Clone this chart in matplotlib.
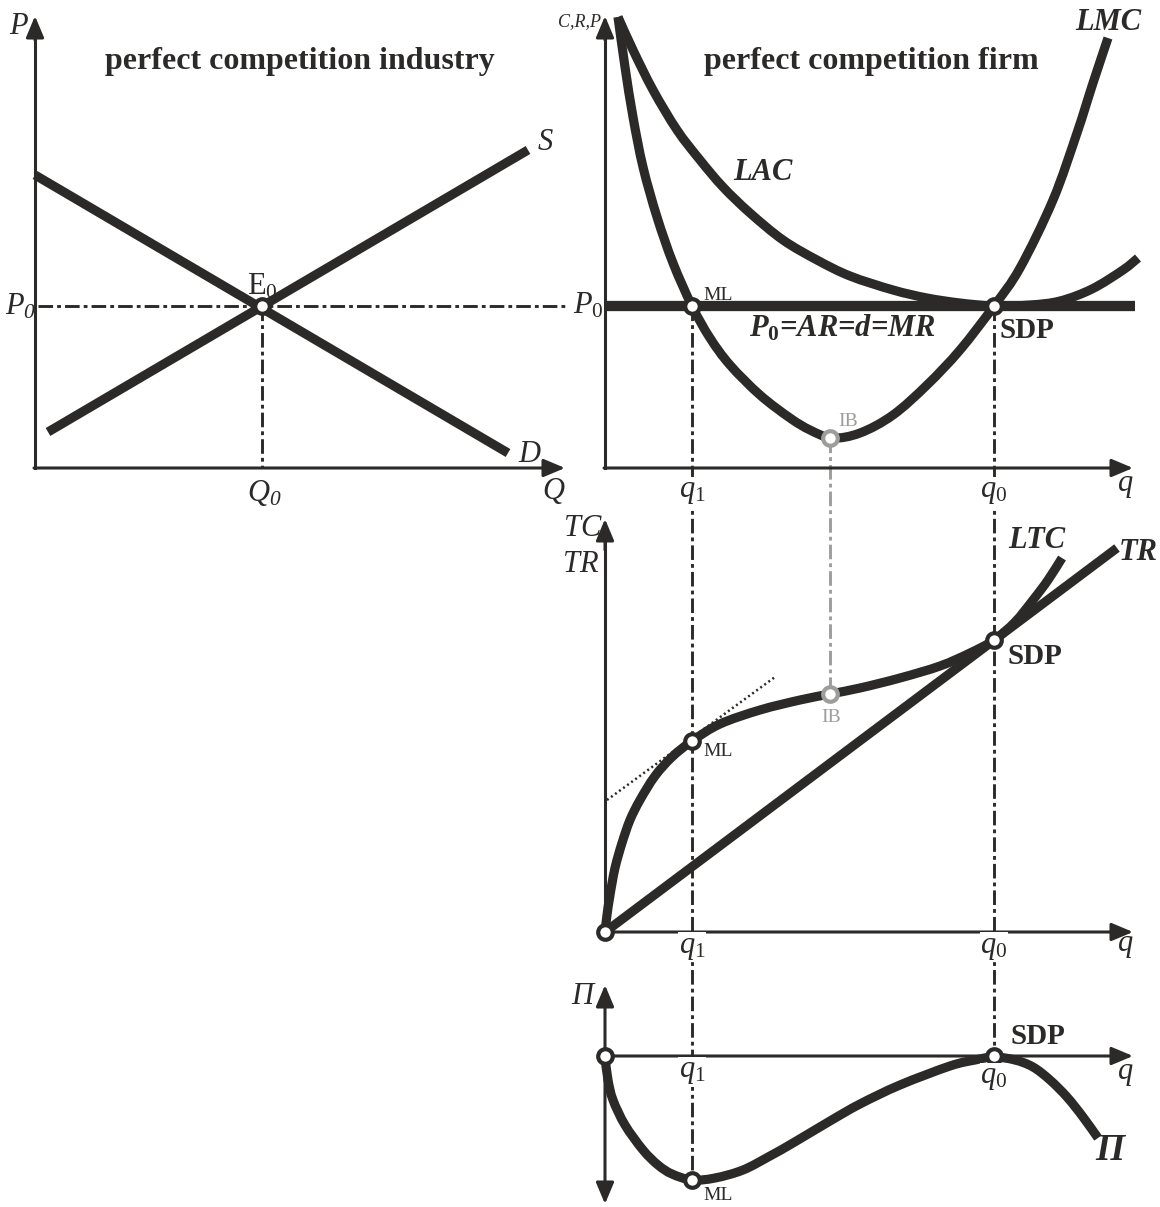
import matplotlib
matplotlib.use("Agg")
import matplotlib.pyplot as plt
from matplotlib.path import Path
from matplotlib.patches import PathPatch

DARK = "#2b2a29"
GREY = "#9d9d9c"

plt.rcParams["font.family"] = "Liberation Serif"
plt.rcParams["mathtext.fontset"] = "custom"
plt.rcParams["mathtext.rm"] = "Liberation Serif"
plt.rcParams["mathtext.it"] = "Liberation Serif:italic"
plt.rcParams["mathtext.bf"] = "Liberation Serif:bold"
plt.rcParams["mathtext.sf"] = "Liberation Serif:italic"
plt.rcParams["mathtext.cal"] = "Liberation Serif:italic:bold"

# ---- values (drawing units = pixels, y downwards) ----
# industry panel
S_X, S_Y = [48, 528], [432, 150]
D_X, D_Y = [35, 508], [175, 453]
E0 = (262, 306)

# firm panel: costs
LMC_X = [618, 625, 633, 643, 657, 673, 692, 710, 730, 760, 790, 810, 832,
         860, 893, 927, 960, 994, 1020, 1053, 1077, 1093, 1108]
LMC_Y = [17, 67, 117, 167, 217, 263, 306, 338, 365, 395, 418, 430, 438,
         433, 415, 385, 350, 306, 268, 200, 133, 83, 38]
LAC_X = [618, 633, 653, 677, 700, 723, 750, 783, 817, 850, 893, 927, 960, 994,
         1030, 1060, 1092, 1123, 1138]
LAC_Y = [17, 50, 90, 130, 160, 187, 213, 240, 260, 276, 290, 298, 303, 306,
         305, 301, 289, 270, 258]
P0_Y = 306
ML_Q, IB_Q, SDP_Q = 692, 830, 994
IB_MC = 438

# firm panel: totals
LTC_X = [605, 607, 610, 615, 622, 630, 640, 655, 672, 692, 720, 760, 800, 830,
         860, 900, 940, 970, 994, 1015, 1033, 1048, 1062]
LTC_Y = [932, 915, 895, 868, 843, 820, 800, 776, 757, 741, 724, 710, 700, 694,
         688, 678, 666, 653, 640, 622, 600, 580, 558]
TR_X, TR_Y = [605, 1117], [932, 548]
TAN_X, TAN_Y = [607, 775], [800, 677]

# firm panel: profit
PI_X = [605, 608, 613, 625, 643, 658, 672, 692, 715, 743, 770, 793, 830, 860,
        900, 950, 975, 994, 1015, 1033, 1050, 1067, 1083, 1098]
PI_Y = [1057, 1080, 1100, 1125, 1150, 1165, 1174, 1180, 1178, 1170, 1156, 1143,
        1121, 1104, 1085, 1066, 1060, 1057, 1060, 1067, 1080, 1097, 1117, 1138]

# axes frames
AX_L = 35
AX_R = 605
BASE_TOP = 468
BASE_MID = 932
BASE_BOT = 1056
ARROW_END = 1133

fig = plt.figure(figsize=(11.6, 12.07), dpi=100)
ax = fig.add_axes([0, 0, 1, 1])
ax.set_xlim(0, 1160)
ax.set_ylim(1207, 0)
ax.axis("off")

AXIS_LW = 2.2
CURVE_LW = 6.6
DASHDOT = (0, (5, 1.4, 1.3, 1.4))


def arrow(x0, y0, x1, y1):
    ax.annotate("", xy=(x1, y1), xytext=(x0, y0),
                arrowprops=dict(arrowstyle="-|>,head_length=1.0,head_width=0.42",
                                mutation_scale=13, lw=AXIS_LW, color=DARK,
                                shrinkA=0, shrinkB=0))


def curve(xs, ys, color=DARK, lw=CURVE_LW):
    # smooth cubic path through the read points (Catmull-Rom handles)
    pts = list(zip(xs, ys))
    n = len(pts)
    verts, codes = [pts[0]], [Path.MOVETO]
    for i in range(n - 1):
        p0, p1 = pts[max(i - 1, 0)], pts[i]
        p2, p3 = pts[i + 1], pts[min(i + 2, n - 1)]
        c1 = (p1[0] + (p2[0] - p0[0]) / 6, p1[1] + (p2[1] - p0[1]) / 6)
        c2 = (p2[0] - (p3[0] - p1[0]) / 6, p2[1] - (p3[1] - p1[1]) / 6)
        verts += [c1, c2, p2]
        codes += [Path.CURVE4] * 3
    ax.add_patch(PathPatch(Path(verts, codes), fill=False, edgecolor=color,
                           lw=lw, capstyle="butt", joinstyle="round"))


def dot(x, y, color=DARK):
    ax.plot([x], [y], "o", ms=10.5, mew=3, mfc="white", mec=color, zorder=10)


def label(x, y, s, size=22, color=DARK, bg=False, **kw):
    kw.setdefault("ha", "center")
    kw.setdefault("va", "center")
    bbox = dict(facecolor="white", edgecolor="none", pad=0.5) if bg else None
    ax.text(x, y, s, fontsize=size, color=color, bbox=bbox, zorder=12, **kw)


# ---------------- industry panel ----------------
ax.plot([AX_L, AX_L], [BASE_TOP, 30], color=DARK, lw=AXIS_LW)
arrow(AX_L, 40, AX_L, 16)
arrow(AX_L - 1, BASE_TOP, 565, BASE_TOP)
ax.plot([38, 565], [E0[1], E0[1]], color=DARK, lw=2.1, ls=DASHDOT)
ax.plot([E0[0], E0[0]], [E0[1], BASE_TOP], color=DARK, lw=2.1, ls=DASHDOT)
ax.plot(S_X, S_Y, color=DARK, lw=CURVE_LW, solid_capstyle="butt")
ax.plot(D_X, D_Y, color=DARK, lw=CURVE_LW, solid_capstyle="butt")
dot(*E0)

label(300, 61, "perfect competition industry", size=23, weight="bold")
label(18, 26, "P", style="italic")
label(545, 143, "S", style="italic")
label(529, 454, "D", style="italic")
label(553, 491, "Q", style="italic")
label(21, 307, r"$P_{\mathsf{0}}$")
label(262, 287, r"$\mathrm{E}_0$")
label(264, 493, r"$Q_{\mathsf{0}}$")

# ---------------- firm: cost curves ----------------
ax.plot([AX_R, AX_R], [BASE_TOP, 30], color=DARK, lw=AXIS_LW)
arrow(AX_R, 40, AX_R, 16)
arrow(AX_R - 1, BASE_TOP, ARROW_END, BASE_TOP)
ax.plot([AX_R, 1135], [P0_Y, P0_Y], color=DARK, lw=7.4, solid_capstyle="butt")
curve(LAC_X, LAC_Y)
curve(LMC_X, LMC_Y)

# vertical guides through all three firm panels
ax.plot([ML_Q, ML_Q], [P0_Y, PI_Y[PI_X.index(ML_Q)]], color=DARK, lw=2.1,
        ls=DASHDOT)
ax.plot([SDP_Q, SDP_Q], [P0_Y, BASE_BOT], color=DARK, lw=2.1, ls=DASHDOT)
ax.plot([IB_Q, IB_Q], [IB_MC, LTC_Y[LTC_X.index(IB_Q)]], color=GREY, lw=2.1,
        ls=DASHDOT)

dot(ML_Q, P0_Y)
dot(SDP_Q, P0_Y)
dot(IB_Q, IB_MC, GREY)

label(871, 61, "perfect competition firm", size=23, weight="bold")
label(601, 22, "C,R,P", size=13, style="italic", ha="right")
label(1108, 22, "LMC", weight="bold", style="italic")
label(763, 173, "LAC", weight="bold", style="italic")
label(588, 306, r"$P_0$")
label(718, 295, "ML", size=14)
label(848, 421, "IB", size=14, color=GREY)
label(842, 328, r"$\mathcal{P}_{\mathbf{0}}$=AR=d=MR", weight="bold",
      style="italic")
label(1027, 330, "SDP", size=21, weight="bold")
label(ML_Q, 492, r"$q_1$", bg=True)
label(SDP_Q, 492, r"$q_0$", bg=True)
label(1126, 484, "q", style="italic")

# ---------------- firm: total curves ----------------
ax.plot([AX_R, AX_R], [BASE_MID, 540], color=DARK, lw=AXIS_LW)
arrow(AX_R, 550, AX_R, 519)
arrow(AX_R, BASE_MID, ARROW_END, BASE_MID)
ax.plot(TAN_X, TAN_Y, color=DARK, lw=1.8, ls=(0, (0.8, 1.2)))
ax.plot(TR_X, TR_Y, color=DARK, lw=CURVE_LW, solid_capstyle="butt")
curve(LTC_X, LTC_Y)

dot(AX_R, BASE_MID)
dot(ML_Q, LTC_Y[LTC_X.index(ML_Q)])
dot(IB_Q, LTC_Y[LTC_X.index(IB_Q)], GREY)
dot(SDP_Q, LTC_Y[LTC_X.index(SDP_Q)])

label(583, 529, "TC", style="italic")
label(581, 564, "TR", style="italic")
label(1037, 541, "LTC", weight="bold", style="italic")
label(1138, 553, "TR", weight="bold", style="italic")
label(718, 752, "ML", size=14)
label(831, 718, "IB", size=14, color=GREY)
label(1035, 656, "SDP", size=21, weight="bold")
label(ML_Q, 947, r"$q_1$", bg=True)
label(SDP_Q, 947, r"$q_0$", bg=True)
label(1126, 944, "q", style="italic")

# ---------------- firm: profit ----------------
arrow(AX_R, 1080, AX_R, 985)
arrow(AX_R, 1080, AX_R, 1204)
arrow(AX_R, BASE_BOT, ARROW_END, BASE_BOT)
curve(PI_X, PI_Y)

dot(AX_R, BASE_BOT)
dot(SDP_Q, BASE_BOT)
dot(ML_Q, PI_Y[PI_X.index(ML_Q)])

label(582, 997, "Π", style="italic")
label(1110, 1150, "Π", size=27, weight="bold", style="italic")
label(1038, 1037, "SDP", size=21, weight="bold")
label(718, 1195, "ML", size=14)
label(ML_Q, 1072, r"$q_1$", bg=True)
label(SDP_Q, 1078, r"$q_0$", bg=True)
label(1126, 1071, "q", style="italic")

fig.savefig("out.png", dpi=100)
